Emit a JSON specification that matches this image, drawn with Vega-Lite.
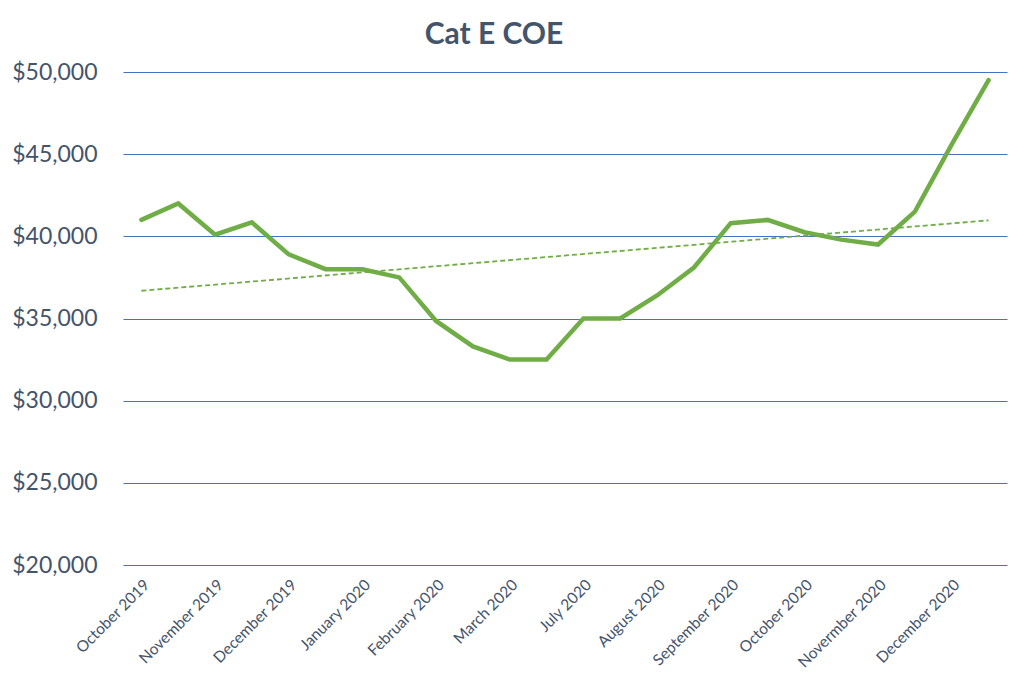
{
  "$schema": "https://vega.github.io/schema/vega-lite/v6.json",
  "width": 884,
  "height": 493,
  "autosize": "none",
  "padding": {"left": 123, "top": 72, "right": 17, "bottom": 118},
  "background": "white",
  "config": {"font": "Lato", "view": {"stroke": null}},
  "title": {"text": "Cat E COE", "fontSize": 30, "fontWeight": "bold", "color": "#44546A", "font": "Lato", "anchor": "middle", "dx": -71, "offset": 11},
  "data": {"values": [
    {"i": 1, "month": "October 2019", "coe": 41000},
    {"i": 2, "month": "October 2019", "coe": 42000},
    {"i": 3, "month": "November 2019", "coe": 40100},
    {"i": 4, "month": "November 2019", "coe": 40850},
    {"i": 5, "month": "December 2019", "coe": 38900},
    {"i": 6, "month": "December 2019", "coe": 38000},
    {"i": 7, "month": "January 2020", "coe": 38000},
    {"i": 8, "month": "January 2020", "coe": 37500},
    {"i": 9, "month": "February 2020", "coe": 34850},
    {"i": 10, "month": "February 2020", "coe": 33300},
    {"i": 11, "month": "March 2020", "coe": 32500},
    {"i": 12, "month": "March 2020", "coe": 32500},
    {"i": 13, "month": "July 2020", "coe": 35000},
    {"i": 14, "month": "July 2020", "coe": 35000},
    {"i": 15, "month": "August 2020", "coe": 36400},
    {"i": 16, "month": "August 2020", "coe": 38100},
    {"i": 17, "month": "September 2020", "coe": 40800},
    {"i": 18, "month": "September 2020", "coe": 41000},
    {"i": 19, "month": "October 2020", "coe": 40250},
    {"i": 20, "month": "October 2020", "coe": 39800},
    {"i": 21, "month": "Novermber 2020", "coe": 39500},
    {"i": 22, "month": "Novermber 2020", "coe": 41500},
    {"i": 23, "month": "December 2020", "coe": 45600},
    {"i": 24, "month": "December 2020", "coe": 49500}
  ]},
  "encoding": {
    "x": {
      "field": "i", "type": "quantitative",
      "scale": {"domain": [0.5, 24.5], "nice": false, "zero": false},
      "axis": {
        "title": null, "values": [1, 3, 5, 7, 9, 11, 13, 15, 17, 19, 21, 23],
        "labelExpr": "['October 2019','November 2019','December 2019','January 2020','February 2020','March 2020','July 2020','August 2020','September 2020','October 2020','Novermber 2020','December 2020'][floor(datum.value / 2)]",
        "labelAngle": -45, "labelFontSize": 15.5, "labelColor": "#44546A", "labelPadding": 12,
        "grid": false, "domain": false, "ticks": false, "labelFlush": false, "labelOverlap": false
      }
    },
    "y": {
      "field": "coe", "type": "quantitative",
      "scale": {"domain": [20000, 50000], "nice": false, "zero": false},
      "axis": {
        "title": null, "values": [20000, 25000, 30000, 35000, 40000, 45000, 50000],
        "format": "$,d", "labelFontSize": 23, "labelColor": "#44546A", "labelPadding": 26,
        "grid": true, "gridColor": "#4472C4", "gridWidth": 1.2, "domain": false, "ticks": false
      }
    }
  },
  "layer": [
    {"mark": {"type": "line", "color": "#70AD47", "strokeWidth": 4.5, "strokeJoin": "miter", "strokeCap": "round"}},
    {
      "transform": [{"regression": "coe", "on": "i"}],
      "mark": {"type": "line", "color": "#70AD47", "strokeWidth": 1.8, "strokeDash": [5, 3]}
    }
  ]
}
